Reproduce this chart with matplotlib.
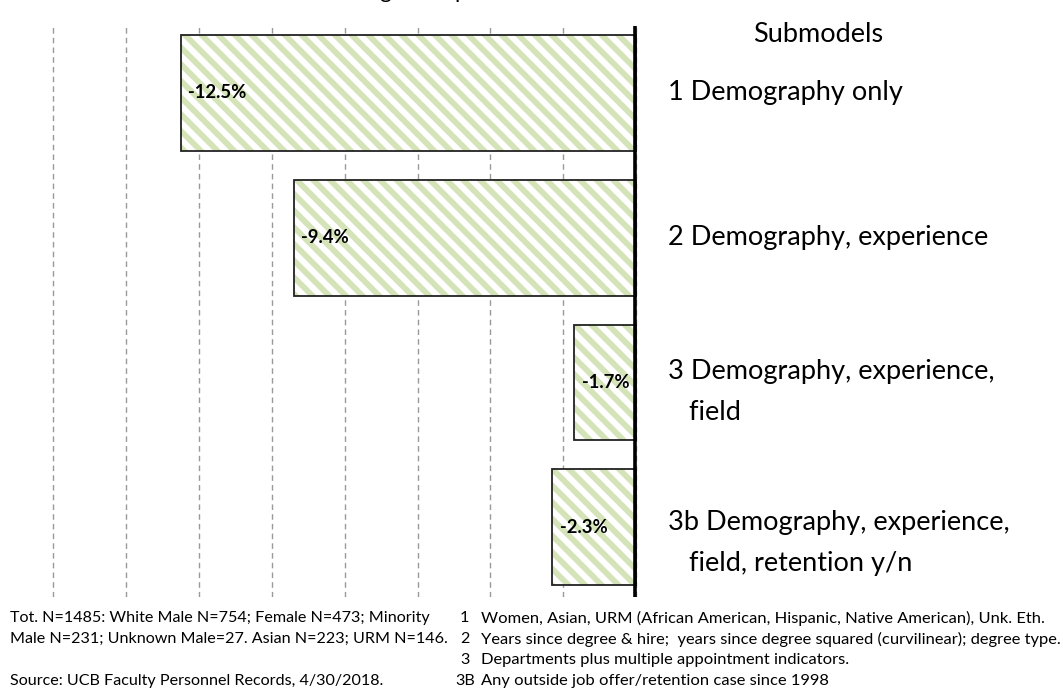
import matplotlib.pyplot as plt

plt.rcParams['font.family'] = ['Lato', 'DejaVu Sans']
plt.rcParams['hatch.linewidth'] = 4.2

# submodel estimates (percent)
values = [-12.5, -9.4, -1.7, -2.3]
value_labels = ['-12.5%', '-9.4%', '-1.7%', '-2.3%']
submodels = ['1 Demography only',
             '2 Demography, experience',
             '3 Demography, experience,\n   field',
             '3b Demography, experience,\n   field, retention y/n']
grid_ticks = [-16, -14, -12, -10, -8, -6, -4, -2, 0]

notes_left = ['Tot. N=1485: White Male N=754; Female N=473; Minority',
              'Male N=231; Unknown Male=27. Asian N=223; URM N=146.']
source = 'Source: UCB Faculty Personnel Records, 4/30/2018.'
note_keys = ['1', '2', '3', '3B']
note_texts = ['Women, Asian, URM (African American, Hispanic, Native American), Unk. Eth.',
              'Years since degree & hire;  years since degree squared (curvilinear); degree type.',
              'Departments plus multiple appointment indicators.',
              'Any outside job offer/retention case since 1998']

W, H = 1063, 689
fig = plt.figure(figsize=(W / 100, H / 100), dpi=100)
ax = fig.add_axes([0, 1 - 597 / H, 640 / W, (597 - 26) / H])

ypos = list(range(len(values)))
green = '#d5e3b9'
ax.barh(ypos, values, height=0.8, color='white', edgecolor=green, hatch='\\\\', linewidth=0, zorder=2)
ax.barh(ypos, values, height=0.8, fill=False, edgecolor='#222222', linewidth=1.3, zorder=3)

for y, v, lab in zip(ypos, values, value_labels):
    ax.text(v + 0.2, y, lab, ha='left', va='center', fontsize=13.3, fontweight='bold', zorder=4)

for g in grid_ticks:
    ax.axvline(g, color='#999999', lw=1.0, ls=(0, (4, 3)), zorder=1)
ax.axvline(-0.05, color='black', lw=2.6, zorder=5)

ax.set_xlim(-17.45, 0.1)
ax.set_ylim(3.48, -0.46)
ax.axis('off')

# category labels on the right
fig.text(818 / W, 1 - 34 / H, 'Submodels', ha='center', va='center', fontsize=19.5)
shifts = [0, 0, -9, -16]
for y, name, dy in zip(ypos, submodels, shifts):
    ax.annotate(name, xy=(1, y), xycoords=('axes fraction', 'data'),
                xytext=(28, dy), textcoords='offset pixels',
                ha='left', va='center', fontsize=19.5, linespacing=1.8)

# title sits above the top edge, only its descenders show
fig.text(248 / W, 1 + 1.5 / H, "Women's Wage Comparison",
         ha='left', va='baseline', fontsize=16)

fs = 11.6
fig.text(10 / W, 1 - 618 / H, notes_left[0], ha='left', va='center', fontsize=fs)
fig.text(10 / W, 1 - 639 / H, notes_left[1], ha='left', va='center', fontsize=fs)
fig.text(10 / W, 1 - 681 / H, source, ha='left', va='center', fontsize=fs)
for i, (k, t) in enumerate(zip(note_keys, note_texts)):
    yy = 1 - (618 + 21 * i) / H
    fig.text((455 if k == '3B' else 460) / W, yy, k, ha='left', va='center', fontsize=fs)
    fig.text(481 / W, yy, t, ha='left', va='center', fontsize=11.85)

fig.savefig('out.png', dpi=100)
